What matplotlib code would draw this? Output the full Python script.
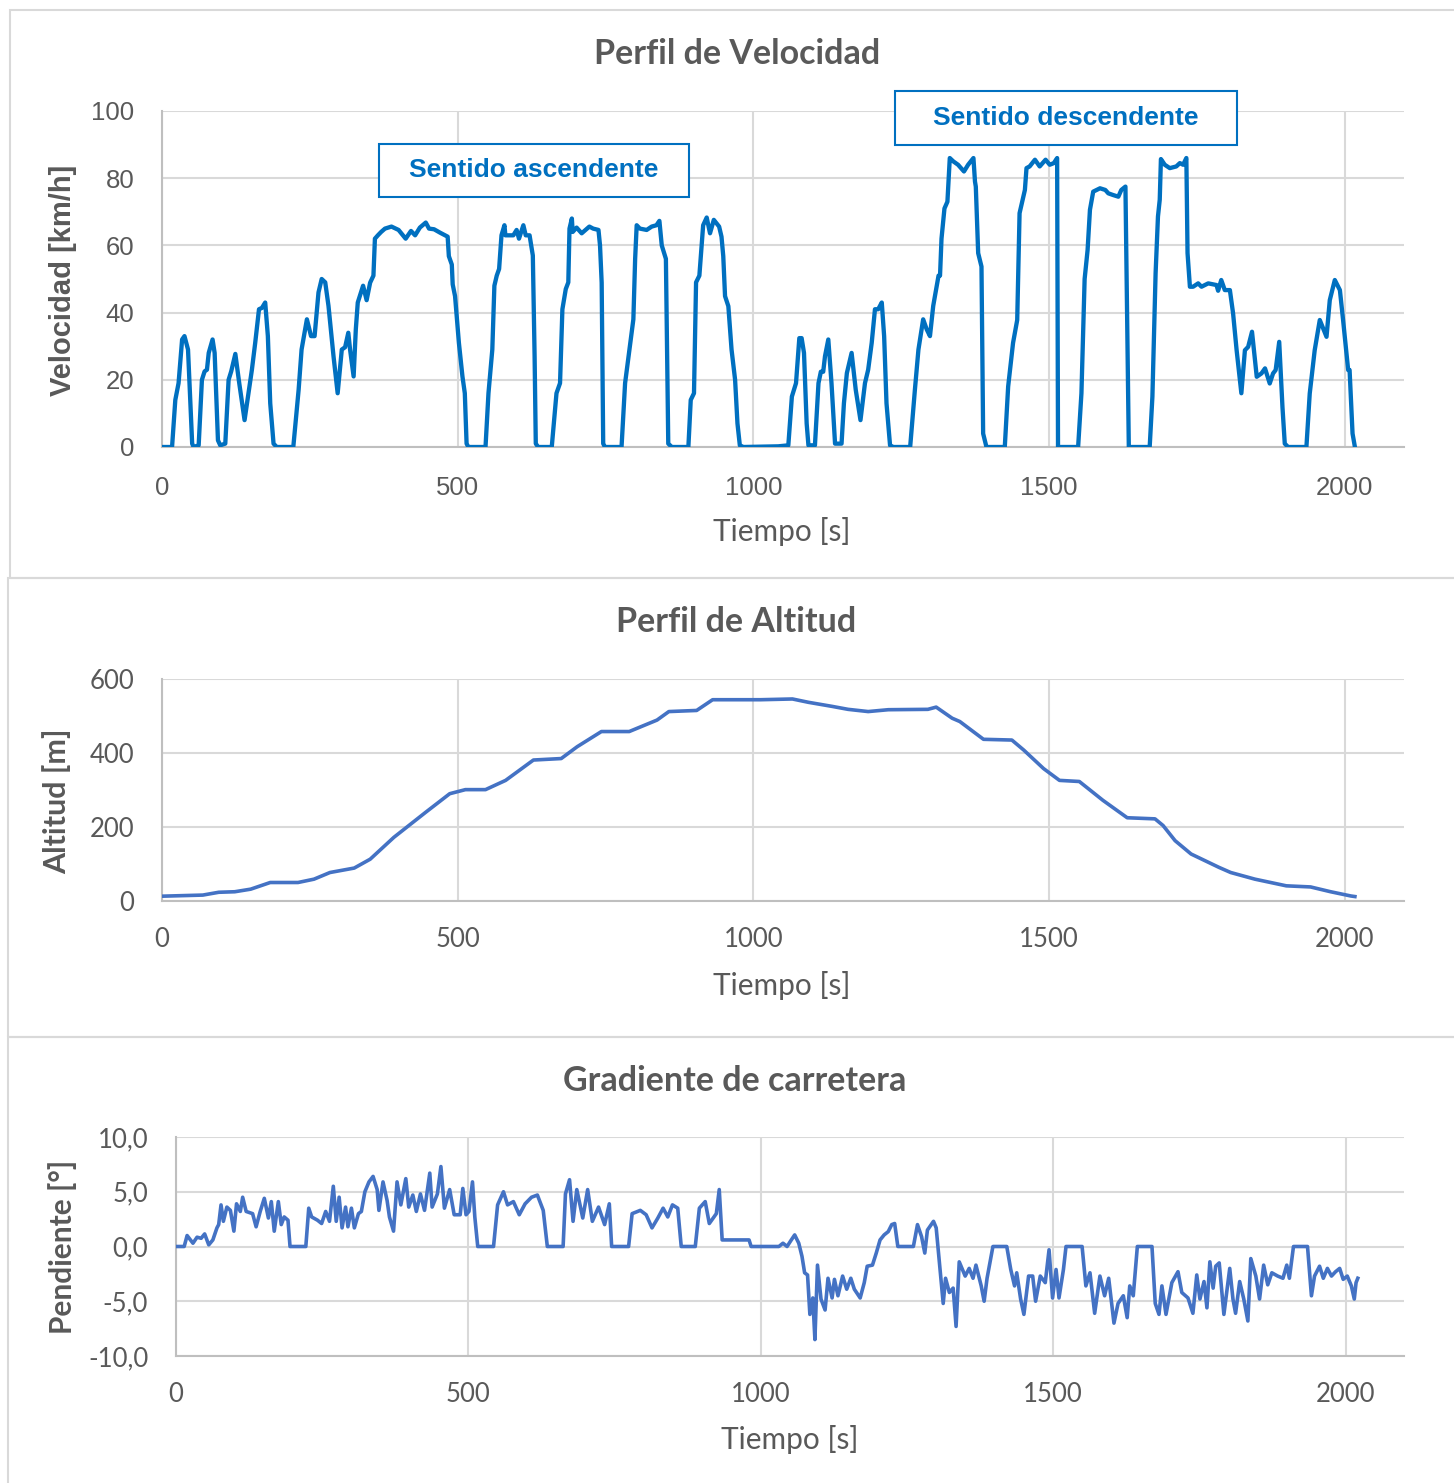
import matplotlib
matplotlib.use("Agg")
import matplotlib.pyplot as plt
from matplotlib.patches import Rectangle
from matplotlib.ticker import FuncFormatter, FixedLocator

# ---------------- data ----------------
speed_t = [0, 17, 22.5, 28, 34, 38, 44, 51, 53.5, 62, 67.5, 72, 76, 79, 85.5, 89, 94.6, 98.5, 107, 112.6,
           117, 124, 130.6, 139.6, 152, 157.6, 164, 169, 174.5, 179, 183, 188.6, 194, 222, 231, 236, 245,
           252, 258, 264.6, 270, 276, 281.5, 290, 297, 304, 309.6, 315, 318, 324, 327.7, 331, 340, 346,
           351.9, 357.5, 360, 365, 370.5, 377, 388, 400, 412, 421, 428, 436, 446, 451.5, 460, 470, 483,
           485, 490, 491.5, 495.5, 502, 508, 512, 515, 518, 547, 552, 558.5, 562, 566, 570, 574, 579,
           580.6, 585, 594, 599.6, 603.6, 611, 615, 621.5, 627, 630, 632, 636, 659, 667, 673, 677, 682.7,
           687, 689, 693,
           694.4, 701, 709.6, 722.6, 729, 738, 740.6, 743.4, 746, 749, 777, 783, 791, 797, 800, 802.6,
           808, 819.5, 828, 836, 841, 845, 852, 856, 862, 890, 894, 899.5, 903, 908.6, 912.5, 915, 921,
           926.6, 933, 942, 946, 949, 952, 957.6, 963, 969, 973, 977, 983, 1042, 1059, 1065, 1072, 1077.6,
           1081.5, 1085.5, 1090, 1093, 1104, 1110, 1114, 1118, 1121, 1126.6, 1132, 1138, 1149, 1153,
           1158, 1166, 1173, 1181, 1188.6, 1194, 1200, 1205.5, 1211, 1217, 1221, 1225, 1231, 1236.5,
           1265, 1273, 1279, 1287, 1293, 1298.5, 1304, 1313, 1315.5, 1318, 1323, 1328, 1332, 1338, 1346,
           1356, 1363, 1372, 1374.6,
           1376, 1380, 1385.6, 1388.4, 1394, 1425, 1430.7, 1439, 1446, 1450, 1459, 1461.7, 1467, 1476,
           1484, 1494, 1501, 1508, 1513.5, 1515, 1549, 1554.6, 1560, 1565, 1569, 1574.5, 1586, 1595,
           1600, 1608, 1617, 1622, 1629, 1630.7, 1634.7, 1670, 1674.6, 1680, 1684, 1687, 1689, 1695.5,
           1704, 1715, 1721, 1726.5, 1732, 1734, 1738, 1743.4, 1752, 1757.6, 1769, 1783, 1785.7, 1791,
           1797, 1805.6, 1811, 1817, 1825, 1831, 1836.5, 1843, 1851, 1859, 1865, 1873, 1878.6, 1883,
           1889, 1894.5, 1898.4, 1904, 1935, 1940.6, 1949, 1957.6, 1969, 1974.5, 1983, 1991.6, 1997,
           2005.6, 2008, 2013, 2017]
speed_v = [0, 0, 14, 19, 32, 33, 29, 1, 0, 0.5, 20, 22.5, 23, 28, 32, 28, 2, 0.5, 1, 20,
           22.5, 27.7, 19, 8, 23, 31, 41, 41.4, 43, 33, 13, 1, 0, 0, 17, 29, 38,
           33, 33, 46, 50, 49, 42, 27, 16, 29, 29.7, 34, 29, 21, 35, 43, 48, 43.7,
           48.9, 51, 62, 63, 64, 65, 65.6, 64.6, 62, 64.3, 63, 65.3, 66.8, 65, 64.8, 63.8, 62.6,
           56.8, 54.3, 48.4, 44.9, 31, 21, 16, 1, 0, 0, 16, 29, 48, 51, 53, 63, 66,
           63, 63, 63, 64.6, 62, 66, 63, 63, 57, 27, 1, 0, 0, 16, 19, 41, 47,
           49, 65, 68,
           64, 65.3, 63.6, 65.6, 65, 64.6, 60, 48.9, 1, 0, 0, 19, 30, 38, 56, 66,
           65, 64.6, 65.6, 66, 67.3, 60, 56, 1, 0, 0, 14, 16, 49, 51, 60, 66, 68.3,
           63.6, 67.6, 65.6, 62.6, 56.8, 44.9, 41.9, 29, 20, 7, 0.5, 0, 0.2, 0.5, 15, 19, 32.4,
           32.4, 28, 7, 0.5, 0.5, 19, 22.4, 22.4, 27, 32, 19, 1, 1, 13,
           22, 28, 17, 8, 19, 23, 31, 41, 41, 43, 33, 13, 0.5, 0,
           0, 17, 29, 38, 35, 33, 42, 51, 51, 62, 71, 73, 86, 85, 84,
           82, 84, 86, 79,
           77.5, 57.7, 53.7, 4, 0, 0, 18, 31, 37.8, 69.6, 76.5, 83, 83.5, 85.5,
           83.5, 85.5, 84, 84.5, 86, 0, 0, 16, 50, 58.6, 70.6, 76, 77, 76.5,
           75.5, 75, 74.5, 76.5, 77.5, 53.7, 0, 0, 15, 51.7, 68.6, 73.6, 85.7, 84,
           83, 83.5, 84.5, 84, 86, 57.7, 47.7, 47.7, 48.7, 47.7, 48.7, 48.2, 46.5, 49.7,
           46.7, 46.7, 39.8, 28.8, 16, 28.8, 29.8, 34.3, 20.9, 21.9, 23.4, 18.9, 21.9, 22.9,
           31.3, 11.9, 1, 0, 0, 15.9, 28.8, 37.8, 32.8, 43.7, 49.7, 46.7, 37.8,
           22.9, 22.9, 4, 0]

alt_t = [0, 69, 96, 123, 150, 183, 230, 257, 284, 325, 352, 392, 446, 486.5, 513, 547, 581, 628,
         675, 702, 743, 790, 837, 857, 904, 931, 1012, 1066, 1093, 1133, 1160, 1194, 1228, 1295,
         1309, 1336, 1349, 1389, 1437, 1457, 1490.5, 1517.5, 1551, 1591, 1632, 1679, 1692.6, 1713,
         1740, 1787, 1807, 1848, 1901, 1942, 1976, 2010, 2017]
alt_v = [13, 16, 23.6, 25, 32, 50, 50, 59, 77, 89, 113, 172, 240, 290, 301, 301, 326, 381,
         385, 417, 458, 458, 489, 512, 515, 544, 544, 546, 537, 526, 518, 512, 517, 518,
         524, 494, 485, 437, 435, 408, 358, 326, 323, 272, 225, 222, 204, 163,
         127, 91, 77, 59, 41, 38, 25, 13.6, 12]

grad_t = [0, 14, 19, 29, 36, 43, 49, 56, 63, 70, 73, 77, 81, 87, 93, 99, 103.5, 110, 114, 120, 131,
          137, 144, 151, 158, 163, 168, 175, 180, 185, 191.5, 195, 222, 227, 232, 242, 249, 256,
          262.5, 269, 274, 279, 284, 290, 294, 300, 305, 312, 317, 323, 330, 337, 344, 347, 354,
          361, 365, 372, 378, 384.5, 393, 398, 405, 411, 418, 425, 434, 438, 447, 453, 459, 468,
          475.7, 486, 490.5, 496, 501, 507, 511, 516, 543, 550, 560, 567, 577, 587, 597, 608, 618,
          628, 635, 662, 666, 673, 679, 685.4, 695.6, 704, 712, 722.6, 733, 741, 745, 774, 780, 794,
          804, 814, 824, 833, 841, 849, 858, 864, 888, 895, 905, 912, 924, 929, 934, 980, 983.5,
          1031, 1038, 1045, 1051, 1058, 1065, 1070.5, 1075, 1080, 1084, 1089, 1092.6, 1097, 1103,
          1110, 1115, 1122, 1126, 1132, 1140, 1147, 1154, 1160, 1170, 1177, 1182, 1191, 1197.5,
          1204, 1211, 1218, 1224, 1229, 1234.4, 1261, 1268, 1275, 1280.5, 1285, 1295.4, 1300,
          1305.6, 1312, 1316, 1322.5, 1329, 1334, 1339.4, 1349.6, 1356.4, 1363, 1368, 1377, 1382,
          1387, 1397, 1420.7, 1427.5, 1434, 1437.7, 1444.4, 1450, 1458, 1465, 1470, 1478, 1486.5,
          1493, 1499, 1505, 1510, 1517.6, 1522, 1549.5, 1556, 1563, 1571, 1580, 1588, 1595, 1604,
          1611, 1620, 1626.6, 1631, 1637, 1644, 1669, 1674.6, 1681, 1686, 1693, 1703, 1713.5,
          1720, 1730.6, 1739, 1745.6, 1751, 1758, 1763, 1768, 1773.6, 1778, 1784, 1792, 1802,
          1807.5, 1812, 1819, 1826, 1833, 1838, 1846.6, 1853, 1860, 1867, 1874, 1884, 1893,
          1899.5, 1904, 1911, 1935, 1941.7, 1947, 1955.6, 1962, 1969, 1976, 1983, 1990, 1996,
          2003, 2010, 2015, 2018, 2021]
grad_v = [0, 0, 1, 0.3, 0.85, 0.75, 1.15, 0.15, 0.6, 1.7, 2, 3.8, 2.3, 3.6, 3.3, 1.4, 3.9, 3.2, 4.5,
          3.2, 3.0, 1.8, 3.2, 4.4, 2.6, 4.1, 1.4, 4.1, 2.0, 2.7, 2.4, 0, 0, 3.5, 2.7, 2.4, 2.1, 3.2,
          2.3, 5.5, 2.3, 4.5, 1.7, 3.6, 1.8, 3.5, 1.7, 3.0, 3.2, 5, 5.9, 6.4, 5.2, 3.3, 5.9,
          4.2, 2.7, 1.4, 5.9, 3.8, 6.2, 3.6, 4.7, 3.2, 4.8, 3.3, 6.7, 3.6, 4.8, 7.3, 3.5, 5.2,
          2.9, 2.9, 5.3, 2.9, 3.2, 5.9, 2.7, 0, 0, 3.8, 5, 3.8, 4.1, 2.9, 3.9, 4.5, 4.7,
          3.3, 0, 0, 4.8, 6.1, 2.3, 5.2, 2.6, 5.2, 2.3, 3.6, 2.0, 3.9, 0, 0, 3.0, 3.3,
          2.9, 1.7, 2.6, 3.5, 2.7, 3.8, 3.5, 0, 0, 3.5, 4.1, 2.1, 3.0, 5.2, 0.6, 0.6, 0,
          0, 0.3, 0, 0.5, 1.06, 0.3, -0.9, -2.4, -2.6, -6.2, -4.7, -8.5, -1.7, -4.8,
          -5.8, -2.9, -4.7, -3.0, -4.5, -2.7, -3.9, -2.9, -3.9, -4.7, -3.3, -1.8, -1.7, -0.6,
          0.6, 1.06, 1.36, 2.0, 2.1, 0, 0, 2.0, 0.9, -0.6, 1.5, 2.3, 1.7,
          -1.5, -5.2, -2.9, -4.2, -3.8, -7.3, -1.4, -2.7, -2.0, -2.9, -1.7, -3.6, -5.0,
          -2.9, 0, 0, -2.1, -3.6, -2.4, -4.8, -6.2, -2.7, -2.7, -5.0, -2.7, -3.3,
          -0.3, -4.7, -2.1, -4.7, -2.1, 0, 0, -3.6, -2.4, -6.1, -2.7, -4.5, -2.9, -7.0,
          -5.2, -4.5, -6.5, -3.6, -4.5, 0, 0, -5.2, -6.2, -3.6, -6.2, -3.3, -2.3,
          -4.2, -4.7, -6.1, -2.6, -4.8, -3.2, -5.6, -1.4, -3.8, -1.8, -1.5, -6.2, -2.0,
          -4.8, -6.1, -3.2, -4.8, -6.8, -1.1, -2.7, -4.8, -1.7, -3.5, -2.4, -2.7, -2.9,
          -1.7, -2.9, 0, 0, -4.5, -2.7, -1.8, -2.9, -2.0, -2.7, -2.3, -2.0, -3.0,
          -2.7, -3.6, -4.8, -3.3, -2.9]

x_ticks = [0, 500, 1000, 1500, 2000]
speed_ticks = [0, 20, 40, 60, 80, 100]
alt_ticks = [0, 200, 400, 600]
grad_ticks = [-10, -5, 0, 5, 10]

titles = ["Perfil de Velocidad", "Perfil de Altitud", "Gradiente de carretera"]
ylabels = ["Velocidad [km/h]", "Altitud [m]", "Pendiente [°]"]
xlabel = "Tiempo [s]"
notes = ["Sentido ascendente", "Sentido descendente"]

# ---------------- style ----------------
TXT = "#595959"
GRID = "#D9D9D9"
SPINE = "#BFBFBF"
C_SPEED = "#0070C0"
C_LINE = "#4472C4"
CAL = ["Lato", "DejaVu Sans"]
ARI = ["Liberation Sans", "DejaVu Sans"]

W, H = 1454, 1483
fig = plt.figure(figsize=(W / 100, H / 100), dpi=100)
fig.patch.set_facecolor("white")

def fx(px):
    return px / W

def fy(py):
    return 1 - py / H

# panel borders
for (x0, y0, y1) in [(10, 10, 578), (8, 578, 1037), (8, 1037, 1500)]:
    fig.add_artist(Rectangle((fx(x0), fy(y1)), 1.2, fy(y0) - fy(y1), transform=fig.transFigure,
                             fill=False, edgecolor=GRID, lw=1.5, zorder=0))

def make_axes(l, t, r, b):
    return fig.add_axes([fx(l), fy(b), fx(r) - fx(l), fy(t) - fy(b)])

ax1 = make_axes(162, 111, 1404, 447)
ax2 = make_axes(162, 679, 1404, 901)
ax3 = make_axes(176, 1137, 1404, 1356)

def style(ax, yticks, tick_font, tick_size, xpad):
    ax.set_xlim(0, 2100)
    ax.set_ylim(yticks[0], yticks[-1])
    ax.xaxis.set_major_locator(FixedLocator(x_ticks))
    ax.yaxis.set_major_locator(FixedLocator(yticks))
    ax.grid(True, color=GRID, lw=1.5, zorder=0)
    ax.set_axisbelow(True)
    for s in ["top", "right"]:
        ax.spines[s].set_visible(False)
    ax.spines["left"].set_color(SPINE)
    ax.spines["bottom"].set_color(SPINE)
    ax.spines["left"].set_linewidth(1.5)
    ax.spines["bottom"].set_linewidth(1.5)
    ax.tick_params(length=0, colors=TXT, labelsize=tick_size)
    ax.tick_params(axis="x", pad=xpad)
    ax.tick_params(axis="y", pad=20)
    for lab in ax.get_xticklabels() + ax.get_yticklabels():
        lab.set_family(tick_font)

ax1.plot(speed_t, speed_v, color=C_SPEED, lw=3.1, solid_joinstyle="round", zorder=3)
style(ax1, speed_ticks, ARI, 18.5, 21)
ax2.plot(alt_t, alt_v, color=C_LINE, lw=2.6, solid_joinstyle="round", zorder=3)
style(ax2, alt_ticks, CAL, 18.5, 19)
ax3.plot(grad_t, grad_v, color=C_LINE, lw=2.6, solid_joinstyle="round", zorder=3)
style(ax3, grad_ticks, CAL, 18.5, 19)
ax3.yaxis.set_major_formatter(FuncFormatter(lambda v, p: f"{v:.1f}".replace(".", ",")))
for lab in ax3.get_yticklabels():
    lab.set_family(CAL)

# titles
for title, (cx, cy) in zip(titles, [(737, 54), (736, 622), (735, 1081)]):
    fig.text(fx(cx), fy(cy), title, ha="center", va="center", fontsize=24.5, fontweight="bold",
             color=TXT, family=CAL)

# y labels
ylab_pos = [(63, 280, ARI, 21), (57, 801, CAL, 22), (63, 1247, CAL, 21.5)]
for lbl, (cx, cy, fam, fs) in zip(ylabels, ylab_pos):
    fig.text(fx(cx), fy(cy), lbl, ha="center", va="center", rotation=90, fontsize=fs,
             fontweight="bold", color=TXT, family=fam)

# x labels
for (cx, cy) in [(782, 531), (782, 986), (790, 1440)]:
    fig.text(fx(cx), fy(cy), xlabel, ha="center", va="center", fontsize=21.5, color=TXT, family=CAL)

# annotation boxes
boxes = [(367, 891, 74.4, 90.2), (1239, 1817, 89.9, 106.0)]
for note, (x0, x1, y0, y1) in zip(notes, boxes):
    ax1.add_patch(Rectangle((x0, y0), x1 - x0, y1 - y0, facecolor="white", edgecolor=C_SPEED,
                            lw=1.5, clip_on=False, zorder=5))
    ax1.text((x0 + x1) / 2, (y0 + y1) / 2, note, ha="center", va="center", fontsize=19,
             fontweight="bold", color=C_SPEED, family=ARI, zorder=6, clip_on=False)

fig.savefig("out.png", dpi=100, facecolor="white")
